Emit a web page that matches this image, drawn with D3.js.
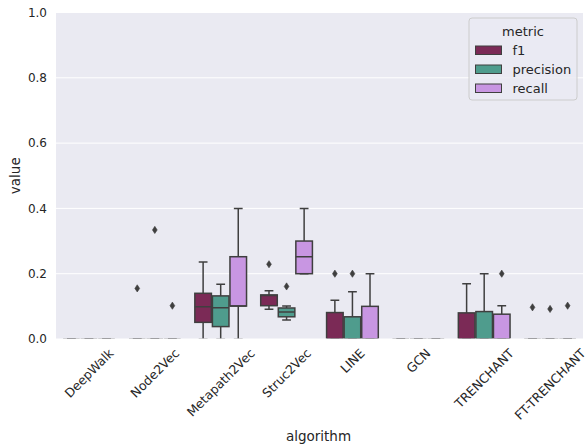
<!DOCTYPE html>
<html>
<head>
<meta charset="utf-8">
<script src="https://cdn.jsdelivr.net/npm/d3@7"></script>
<style>
  body { margin: 0; background: #ffffff; }
  text { font-family: "DejaVu Sans", sans-serif; fill: #262626; }
</style>
</head>
<body>
<svg id="chart" width="587" height="447"></svg>
<script>
const algorithms = ["DeepWalk", "Node2Vec", "Metapath2Vec", "Struc2Vec", "LINE", "GCN", "TRENCHANT", "FT-TRENCHANT"];
const metrics = ["f1", "precision", "recall"];
const yTicks = [0, 0.2, 0.4, 0.6, 0.8, 1.0];

// Box summaries per algorithm: [whiskerLow, q1, median, q3, whiskerHigh]
const f1Stats = [
  [0, 0, 0, 0, 0],
  [0, 0, 0, 0, 0],
  [0, 0.051, 0.099, 0.140, 0.236],
  [0.091, 0.102, 0.133, 0.135, 0.148],
  [0, 0, 0, 0.081, 0.119],
  [0, 0, 0, 0, 0],
  [0, 0, 0, 0.080, 0.169],
  [0, 0, 0, 0, 0]
];
const precisionStats = [
  [0, 0, 0, 0, 0],
  [0, 0, 0, 0, 0],
  [0, 0.038, 0.096, 0.132, 0.168],
  [0.058, 0.068, 0.083, 0.095, 0.101],
  [0, 0, 0, 0.068, 0.145],
  [0, 0, 0, 0, 0],
  [0, 0, 0, 0.084, 0.200],
  [0, 0, 0, 0, 0]
];
const recallStats = [
  [0, 0, 0, 0, 0],
  [0, 0, 0, 0, 0],
  [0, 0.101, 0.101, 0.252, 0.400],
  [0.200, 0.200, 0.252, 0.300, 0.400],
  [0, 0, 0, 0.100, 0.200],
  [0, 0, 0, 0, 0],
  [0, 0, 0, 0.076, 0.102],
  [0, 0, 0, 0, 0]
];

// Points beyond the whiskers
const f1Outliers = [[], [0.155], [], [0.229], [0.200], [], [], [0.097]];
const precisionOutliers = [[], [0.334], [], [0.161], [0.200], [], [], [0.092]];
const recallOutliers = [[], [0.102], [], [], [], [], [0.200], [0.102]];

const metricColors = ["#7b2a56", "#4f9c8d", "#c896e2"];

const statsByMetric = [f1Stats, precisionStats, recallStats];
const outliersByMetric = [f1Outliers, precisionOutliers, recallOutliers];

const W = 587, H = 447;
const margin = { left: 56, right: 4, top: 12.5, bottom: 108 };
const plotW = W - margin.left - margin.right;
const plotH = H - margin.top - margin.bottom;

const svg = d3.select("#chart");
const edge = "#3f3f3f";

const x = d3.scaleBand().domain(algorithms).range([0, plotW]).paddingInner(0).paddingOuter(0);
const xm = d3.scaleBand().domain(metrics).range([0, x.bandwidth() * 0.8]).padding(0);
const y = d3.scaleLinear().domain([0, 1]).range([plotH, 0]);

const g = svg.append("g").attr("transform", `translate(${margin.left},${margin.top})`);

// background and horizontal grid
g.append("rect").attr("width", plotW).attr("height", plotH).attr("fill", "#eaeaf2");
g.append("g").selectAll("line").data(yTicks).join("line")
  .attr("x1", 0).attr("x2", plotW)
  .attr("y1", d => y(d)).attr("y2", d => y(d))
  .attr("stroke", "#ffffff").attr("stroke-width", 1);

// marks are clipped to the axes area; boxes sitting on zero only leave a faint edge
svg.append("defs").append("clipPath").attr("id", "plotClip")
  .append("rect").attr("width", plotW).attr("height", plotH - 0.75);

const marks = g.append("g").attr("clip-path", "url(#plotClip)");

const rows = [];
algorithms.forEach((alg, i) => {
  metrics.forEach((m, j) => {
    const s = statsByMetric[j][i];
    rows.push({ alg, m, j, lo: s[0], q1: s[1], med: s[2], q3: s[3], hi: s[4], out: outliersByMetric[j][i] });
  });
});

const boxInset = 0.5;
rows.forEach(r => {
  const x0 = x(r.alg) + x.bandwidth() * 0.1 + xm(r.m);
  const bw = xm.bandwidth();
  const cx = x0 + bw / 2;
  const grp = marks.append("g");
  // whiskers
  grp.append("line").attr("x1", cx).attr("x2", cx).attr("y1", y(r.q3)).attr("y2", y(r.hi))
    .attr("stroke", edge).attr("stroke-width", 1.5);
  grp.append("line").attr("x1", cx).attr("x2", cx).attr("y1", y(r.q1)).attr("y2", y(r.lo))
    .attr("stroke", edge).attr("stroke-width", 1.5);
  // caps
  [r.lo, r.hi].forEach(v => {
    grp.append("line").attr("x1", cx - bw / 4).attr("x2", cx + bw / 4).attr("y1", y(v)).attr("y2", y(v))
      .attr("stroke", edge).attr("stroke-width", 1.5);
  });
  // box
  grp.append("rect")
    .attr("x", x0 + boxInset).attr("width", bw - 2 * boxInset)
    .attr("y", y(r.q3)).attr("height", y(r.q1) - y(r.q3))
    .attr("fill", metricColors[r.j]).attr("stroke", edge).attr("stroke-width", 1.5);
  // median
  grp.append("line").attr("x1", x0 + boxInset).attr("x2", x0 + bw - boxInset)
    .attr("y1", y(r.med)).attr("y2", y(r.med))
    .attr("stroke", edge).attr("stroke-width", 1.5);
  // outliers
  grp.selectAll("path.out").data(r.out).join("path")
    .attr("class", "out")
    .attr("transform", d => `translate(${cx},${y(d)})`)
    .attr("d", "M0,-3.6L2.4,0L0,3.6L-2.4,0Z")
    .attr("fill", edge).attr("stroke", edge).attr("stroke-width", 0.6);
});

// y axis
const yAxis = g.append("g").call(d3.axisLeft(y).tickValues(yTicks).tickFormat(d3.format(".1f")).tickSize(0).tickPadding(9));
yAxis.select(".domain").remove();
yAxis.selectAll("text").attr("font-size", 12).attr("fill", "#262626").style("font-family", "DejaVu Sans");

// x axis labels, rotated 45 degrees with their bounding box centred under each band
const tickFont = 12.5;
const xLabels = g.append("g").attr("transform", `translate(0,${plotH})`);
algorithms.forEach(alg => {
  const t = xLabels.append("text").text(alg).attr("font-size", tickFont).attr("text-anchor", "middle")
    .attr("dominant-baseline", "central");
  const w = t.node().getComputedTextLength();
  const h = tickFont * 1.1;
  const half = (w + h) / (2 * Math.SQRT2);
  const cx = x(alg) + x.bandwidth() / 2;
  const cy = 7 + half;
  t.attr("transform", `translate(${cx},${cy}) rotate(-45)`);
});

// axis titles
svg.append("text").attr("x", margin.left + plotW / 2 - 1).attr("y", 441)
  .attr("text-anchor", "middle").attr("font-size", 13.5).text("algorithm");
svg.append("text").attr("transform", `translate(20,${margin.top + plotH / 2}) rotate(-90)`)
  .attr("text-anchor", "middle").attr("font-size", 13.5).text("value");

// legend
const lg = svg.append("g").attr("transform", "translate(469,18)");
lg.append("rect").attr("width", 108).attr("height", 82).attr("rx", 3)
  .attr("fill", "#eaeaf2").attr("fill-opacity", 0.8).attr("stroke", "#cccccc").attr("stroke-width", 1);
lg.append("text").attr("x", 54).attr("y", 18).attr("text-anchor", "middle").attr("font-size", 13).text("metric");
metrics.forEach((m, j) => {
  const ry = 28 + j * 19;
  lg.append("rect").attr("x", 6.5).attr("y", ry).attr("width", 26).attr("height", 8.5)
    .attr("fill", metricColors[j]).attr("stroke", edge).attr("stroke-width", 1);
  lg.append("text").attr("x", 43.5).attr("y", ry + 9).attr("font-size", 13).text(m);
});
</script>
</body>
</html>
